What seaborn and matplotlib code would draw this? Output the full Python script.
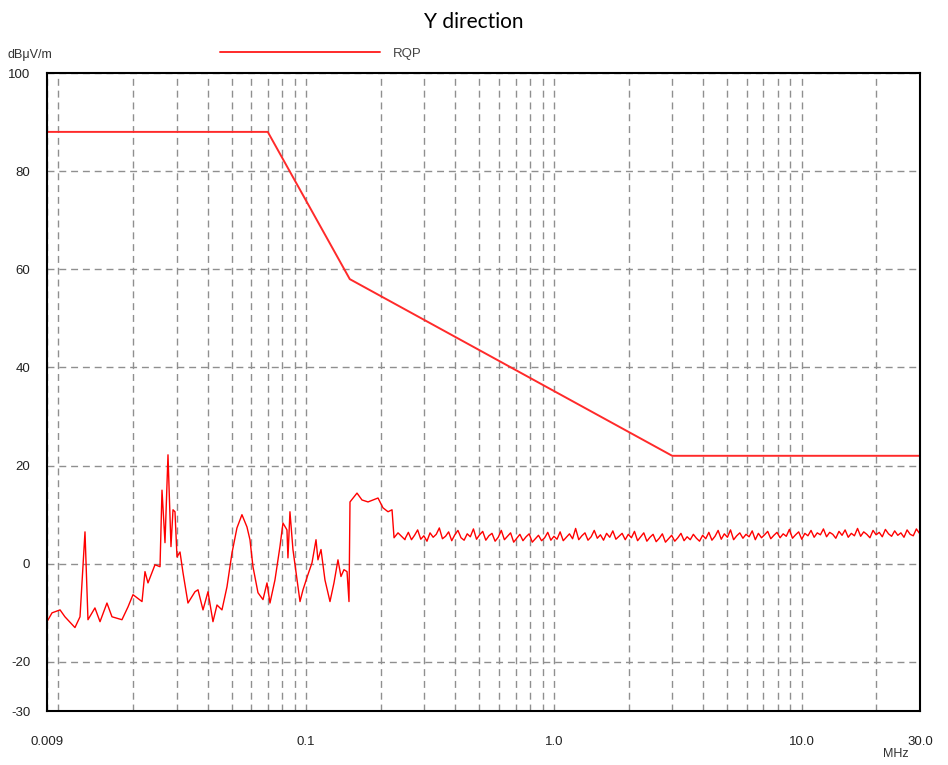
import matplotlib
matplotlib.use("Agg")
import matplotlib.pyplot as plt
from matplotlib.ticker import FixedLocator, NullFormatter
import seaborn as sns
import pandas as pd

# ---------------- data ----------------
rqp_freq = [0.009, 0.07, 0.15, 3.0, 30.0]
rqp_db = [88, 88, 58, 22, 22]

low_freq = [0.00900, 0.00943, 0.01016, 0.01063, 0.01167, 0.01223, 0.01281, 0.01317,
            0.01405, 0.01473, 0.01571, 0.01646, 0.01806, 0.01910, 0.02001, 0.02176,
            0.02237, 0.02300, 0.02455, 0.02572, 0.02620, 0.02694, 0.02770, 0.02848,
            0.02902, 0.02956, 0.03012, 0.03097, 0.03184, 0.03335, 0.03560, 0.03661,
            0.03835, 0.04017, 0.04207, 0.04367, 0.04574, 0.04792, 0.05020, 0.05257,
            0.05507, 0.05770, 0.05933, 0.06101, 0.06392, 0.06696, 0.06950, 0.07145,
            0.07484, 0.07840, 0.08062, 0.08367, 0.08444, 0.08603, 0.08846, 0.09271,
            0.09445, 0.09712, 0.1017, 0.1056, 0.1096, 0.1116, 0.1148, 0.1191,
            0.1248, 0.1295, 0.1344, 0.1382, 0.1421, 0.1462, 0.1489, 0.1503,
            0.1604, 0.1680, 0.1777, 0.1950, 0.2042, 0.2140, 0.2221, 0.2263,
            0.2348, 0.2505]
low_db = [-11.8, -10.0, -9.4, -10.8, -13.0, -10.8, 6.5, -11.4,
          -9.0, -11.8, -8.0, -10.8, -11.4, -8.8, -6.3, -7.7,
          -1.6, -3.9, -0.2, -0.6, 15.0, 4.3, 22.2, 3.5,
          11.0, 10.6, 1.4, 2.4, -1.8, -8.0, -5.7, -5.3,
          -9.4, -5.7, -11.8, -8.4, -9.4, -4.7, 2.2, 7.3,
          10.0, 7.5, 4.9, -0.6, -5.9, -7.3, -3.9, -8.0,
          -3.3, 3.5, 8.3, 6.9, 1.2, 10.6, 2.9, -4.7,
          -7.7, -5.3, -2.2, 0.2, 4.9, 0.8, 2.9, -3.3,
          -7.7, -3.9, 0.8, -2.6, -1.2, -1.6, -7.7, 12.6,
          14.4, 13.0, 12.6, 13.4, 11.4, 10.6, 11.0, 5.3,
          6.3, 4.9]

floor_freq = [
    0.2512, 0.2585, 0.2661, 0.2738, 0.2818, 0.2901, 0.2985, 0.3073, 0.3162, 0.3255,
    0.3350, 0.3447, 0.3548, 0.3652, 0.3758, 0.3868, 0.3981, 0.4097, 0.4217, 0.4340,
    0.4467, 0.4597, 0.4732, 0.4870, 0.5012, 0.5158, 0.5309, 0.5464, 0.5623, 0.5788,
    0.5957, 0.6131, 0.6310, 0.6494, 0.6683, 0.6879, 0.7079, 0.7286, 0.7499, 0.7718,
    0.7943, 0.8175, 0.8414, 0.8660, 0.8913, 0.9173, 0.9441, 0.9716,
    1.000, 1.029, 1.059, 1.090, 1.122, 1.155, 1.189, 1.223, 1.259, 1.296,
    1.334, 1.372, 1.413, 1.454, 1.496, 1.540, 1.585, 1.631, 1.679, 1.728,
    1.778, 1.830, 1.884, 1.939, 1.995, 2.054, 2.113, 2.175, 2.239, 2.304,
    2.371, 2.441, 2.512, 2.585, 2.661, 2.738, 2.818, 2.901, 2.985, 3.073,
    3.162, 3.255, 3.350, 3.447, 3.548, 3.652, 3.758, 3.868, 3.981, 4.097,
    4.217, 4.340, 4.467, 4.597, 4.732, 4.870, 5.012, 5.158, 5.309, 5.464,
    5.623, 5.788, 5.957, 6.131, 6.310, 6.494, 6.683, 6.879, 7.079, 7.286,
    7.499, 7.718, 7.943, 8.175, 8.414, 8.660, 8.913, 9.173, 9.441, 9.716,
    10.00, 10.29, 10.59, 10.90, 11.22, 11.55, 11.89, 12.23, 12.59, 12.96,
    13.34, 13.72, 14.13, 14.54, 14.96, 15.40, 15.85, 16.31, 16.79, 17.28,
    17.78, 18.30, 18.84, 19.39, 19.95, 20.54, 21.13, 21.75, 22.39, 23.04,
    23.71, 24.41, 25.12, 25.85, 26.61, 27.38, 28.18, 29.01, 29.85, 30.0]
floor_db = [
    5.2, 6.4, 4.9, 5.8, 6.9, 5.0, 5.7, 4.6, 6.3, 5.4, 6.0, 7.3,
    5.1, 5.6, 6.5, 4.7, 5.9, 6.8, 5.3, 4.8, 6.1, 5.5, 7.1, 5.0,
    5.9, 6.6, 4.8, 5.7, 6.2, 4.6, 5.4, 6.8, 4.9, 5.6, 6.3, 4.4,
    5.2, 6.0, 4.7, 5.5, 6.1, 4.4, 5.1, 5.8, 4.7, 5.3, 6.4, 4.8,
    5.6, 5.0, 6.5, 4.7, 5.4, 6.1, 5.1, 7.2, 4.9, 5.7, 6.3, 4.8,
    5.5, 6.8, 5.2, 5.9, 4.8, 6.2, 5.4, 6.7, 5.0, 5.6, 6.2, 4.9,
    6.0, 5.3, 6.6, 4.7, 5.5, 6.3, 4.6, 5.4, 6.0, 4.5, 5.2, 6.1,
    4.4, 5.1, 5.8, 4.6, 5.3, 6.2, 4.7, 5.5, 4.9, 6.0, 5.2, 4.6,
    5.8, 5.1, 6.4, 4.8, 5.6, 6.8, 5.0, 6.1, 5.4, 6.9, 4.9, 5.7,
    6.3, 5.2, 6.0, 5.5, 6.7, 4.9, 6.2, 5.3, 5.9, 6.6, 5.1, 5.8,
    6.4, 5.3, 6.1, 5.6, 7.0, 5.2, 5.9, 6.5, 5.0, 6.2, 5.7, 6.8,
    5.4, 6.3, 5.9, 7.1, 5.5, 6.4, 6.0, 5.2, 6.6, 5.8, 6.9, 5.4,
    6.2, 5.7, 7.2, 5.6, 6.5, 6.0, 5.3, 6.8, 5.9, 6.4, 5.5, 7.0,
    6.1, 5.6, 6.7, 5.8, 6.3, 5.4, 6.9, 6.0, 5.7, 7.1, 6.2, 6.5]

x_ticks = [0.009, 0.1, 1.0, 10.0, 30.0]
x_tick_labels = ["0.009", "0.1", "1.0", "10.0", "30.0"]
x_grid = [0.01, 0.02, 0.03, 0.04, 0.05, 0.06, 0.07, 0.08, 0.09,
          0.2, 0.3, 0.4, 0.5, 0.6, 0.7, 0.8, 0.9,
          2, 3, 4, 5, 6, 7, 8, 9, 20]
y_ticks = [-30, -20, 0, 20, 40, 60, 80, 100]

# ---------------- plot ----------------
sns.set_style("white")
plt.rcParams['font.family'] = ['Liberation Sans', 'DejaVu Sans']

fig = plt.figure(figsize=(9.48, 7.65), dpi=100)
ax = fig.add_axes([47 / 948, 1 - 711 / 765, 873 / 948, 638 / 765])

trace = pd.DataFrame({"freq": low_freq + floor_freq, "db": low_db + floor_db})
limit = pd.DataFrame({"freq": rqp_freq, "db": rqp_db})

sns.lineplot(data=trace, x="freq", y="db", color="#ff0000", linewidth=1.0,
             ax=ax, legend=False, sort=False, estimator=None)
sns.lineplot(data=limit, x="freq", y="db", color="#ff2a2a", linewidth=1.4,
             ax=ax, label="RQP", sort=False, estimator=None)

ax.set_xscale("log")
ax.set_xlim(0.009, 30)
ax.set_ylim(-30, 100)
ax.xaxis.set_major_locator(FixedLocator(x_ticks))
ax.set_xticklabels(x_tick_labels)
ax.xaxis.set_minor_locator(FixedLocator(x_grid))
ax.xaxis.set_minor_formatter(NullFormatter())
ax.set_yticks(y_ticks)
ax.set_yticklabels([str(v) for v in y_ticks])
ax.set_xlabel("")
ax.set_ylabel("")

ax.tick_params(axis="both", which="major", direction="out", length=6, width=1,
               color="black", labelsize=9.5, labelcolor="#222222")
ax.tick_params(axis="x", which="major", pad=12)
ax.tick_params(axis="y", which="major", pad=8, length=4)
ax.tick_params(axis="x", which="minor", length=0)
ax.grid(True, which="both", color="#8f8f8f", linestyle=(0, (5, 3.5)), linewidth=1.0)
ax.set_axisbelow(True)
for s in ax.spines.values():
    s.set_color("black")
    s.set_linewidth(1.5)

leg = ax.legend(loc="lower left", bbox_to_anchor=((220 - 47) / 873, 1.021),
                frameon=False, handlelength=12.1, handletextpad=1.0,
                fontsize=9.5, borderaxespad=0, borderpad=0)
for t in leg.get_texts():
    t.set_color("#444444")

fig.text(0.5, 1 - 22 / 765, "Y direction", ha="center", va="center",
         fontsize=15, family=["Lato", "DejaVu Sans"], color="black")
fig.text(8 / 948, 1 - 55 / 765, "dBμV/m", ha="left", va="center",
         fontsize=9, color="#333333")
fig.text(896 / 948, 1 - 754 / 765, "MHz", ha="center", va="center",
         fontsize=9, color="#333333")

fig.savefig("out.png", dpi=100)
